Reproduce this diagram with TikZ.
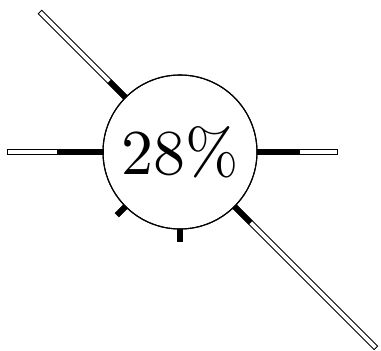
\documentclass[tikz,border=0pt]{standalone}
\usepackage{fontspec}
\newfontfamily\pctfont{lmroman10-regular.otf}
\usetikzlibrary{positioning}
\tikzset{
  bar/.style={draw=black,line width=0.9pt,fill=white},
  ring/.style={circle,draw=black,line width=1.1pt,minimum size=154pt,inner sep=0pt,
    font=\pctfont\fontsize{64}{64}\selectfont}
}
% one spoke: angle, full length, filled length
\newcommand{\gaugebar}[3]{%
  \begin{scope}[shift={(ring.center)},rotate=#1]
    \draw[bar] (77,-2.4) rectangle (77+#2,2.4);
    \fill[black] (77,-2.8) rectangle (77+#3,2.8);
  \end{scope}
}

\begin{document}
\begin{tikzpicture}[x=1pt,y=1pt]
  \useasboundingbox (0,0) rectangle (381,351);
  \node[ring] (ring) at (180,199) {28\%};
  \gaugebar{135}{121}{23}
  \gaugebar{180}{96}{46}
  \gaugebar{0}{80}{43}
  \gaugebar{-45}{200}{23}
  \gaugebar{225}{12}{12}
  \gaugebar{270}{12}{12}
  % redraw the ring on top
  \draw[line width=1.1pt] (ring.center) circle (77);
\end{tikzpicture}
\end{document}
